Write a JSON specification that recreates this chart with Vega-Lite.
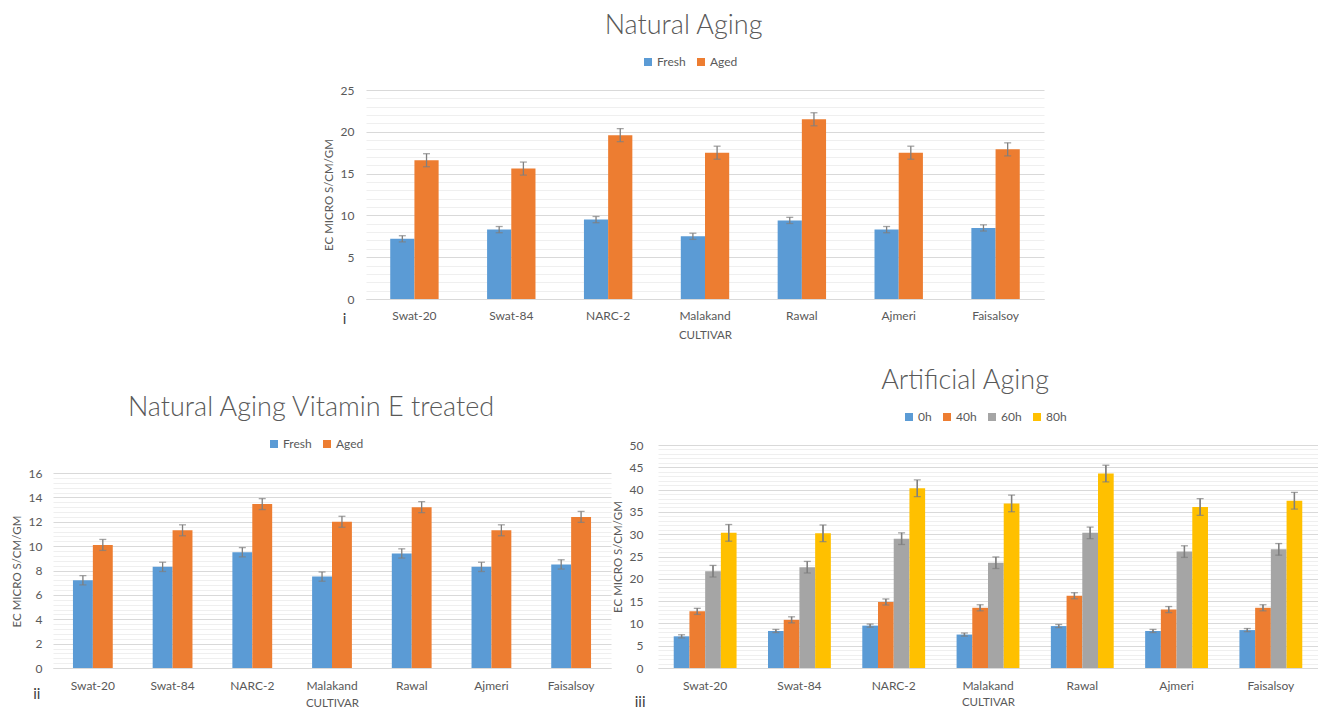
{
  "$schema": "https://vega.github.io/schema/vega-lite/v6.json",
  "padding": {"left": 11, "top": 12, "right": 0, "bottom": 0},
  "background": "white",
  "datasets": {
    "natural": [
      {"cultivar": "Swat-20", "group": "Fresh", "value": 7.2, "lo": 6.83, "hi": 7.57},
      {"cultivar": "Swat-20", "group": "Aged", "value": 16.6, "lo": 15.82, "hi": 17.38},
      {"cultivar": "Swat-84", "group": "Fresh", "value": 8.3, "lo": 7.93, "hi": 8.67},
      {"cultivar": "Swat-84", "group": "Aged", "value": 15.6, "lo": 14.82, "hi": 16.38},
      {"cultivar": "NARC-2", "group": "Fresh", "value": 9.5, "lo": 9.13, "hi": 9.87},
      {"cultivar": "NARC-2", "group": "Aged", "value": 19.6, "lo": 18.82, "hi": 20.38},
      {"cultivar": "Malakand", "group": "Fresh", "value": 7.5, "lo": 7.13, "hi": 7.87},
      {"cultivar": "Malakand", "group": "Aged", "value": 17.5, "lo": 16.72, "hi": 18.28},
      {"cultivar": "Rawal", "group": "Fresh", "value": 9.4, "lo": 9.03, "hi": 9.77},
      {"cultivar": "Rawal", "group": "Aged", "value": 21.5, "lo": 20.72, "hi": 22.28},
      {"cultivar": "Ajmeri", "group": "Fresh", "value": 8.3, "lo": 7.93, "hi": 8.67},
      {"cultivar": "Ajmeri", "group": "Aged", "value": 17.5, "lo": 16.72, "hi": 18.28},
      {"cultivar": "Faisalsoy", "group": "Fresh", "value": 8.5, "lo": 8.13, "hi": 8.87},
      {"cultivar": "Faisalsoy", "group": "Aged", "value": 17.9, "lo": 17.12, "hi": 18.68}
    ],
    "vitaminE": [
      {"cultivar": "Swat-20", "group": "Fresh", "value": 7.2, "lo": 6.82, "hi": 7.58},
      {"cultivar": "Swat-20", "group": "Aged", "value": 10.1, "lo": 9.65, "hi": 10.55},
      {"cultivar": "Swat-84", "group": "Fresh", "value": 8.3, "lo": 7.92, "hi": 8.68},
      {"cultivar": "Swat-84", "group": "Aged", "value": 11.3, "lo": 10.85, "hi": 11.75},
      {"cultivar": "NARC-2", "group": "Fresh", "value": 9.5, "lo": 9.12, "hi": 9.88},
      {"cultivar": "NARC-2", "group": "Aged", "value": 13.45, "lo": 13.0, "hi": 13.9},
      {"cultivar": "Malakand", "group": "Fresh", "value": 7.5, "lo": 7.12, "hi": 7.88},
      {"cultivar": "Malakand", "group": "Aged", "value": 12.0, "lo": 11.55, "hi": 12.45},
      {"cultivar": "Rawal", "group": "Fresh", "value": 9.4, "lo": 9.02, "hi": 9.78},
      {"cultivar": "Rawal", "group": "Aged", "value": 13.2, "lo": 12.75, "hi": 13.65},
      {"cultivar": "Ajmeri", "group": "Fresh", "value": 8.3, "lo": 7.92, "hi": 8.68},
      {"cultivar": "Ajmeri", "group": "Aged", "value": 11.3, "lo": 10.85, "hi": 11.75},
      {"cultivar": "Faisalsoy", "group": "Fresh", "value": 8.5, "lo": 8.12, "hi": 8.88},
      {"cultivar": "Faisalsoy", "group": "Aged", "value": 12.4, "lo": 11.95, "hi": 12.85}
    ],
    "artificial": [
      {"cultivar": "Swat-20", "hours": "0h", "value": 7.1, "lo": 6.75, "hi": 7.45},
      {"cultivar": "Swat-20", "hours": "40h", "value": 12.7, "lo": 12.02, "hi": 13.38},
      {"cultivar": "Swat-20", "hours": "60h", "value": 21.7, "lo": 20.4, "hi": 23.0},
      {"cultivar": "Swat-20", "hours": "80h", "value": 30.3, "lo": 28.43, "hi": 32.17},
      {"cultivar": "Swat-84", "hours": "0h", "value": 8.3, "lo": 7.95, "hi": 8.65},
      {"cultivar": "Swat-84", "hours": "40h", "value": 10.8, "lo": 10.12, "hi": 11.48},
      {"cultivar": "Swat-84", "hours": "60h", "value": 22.6, "lo": 21.3, "hi": 23.9},
      {"cultivar": "Swat-84", "hours": "80h", "value": 30.2, "lo": 28.33, "hi": 32.07},
      {"cultivar": "NARC-2", "hours": "0h", "value": 9.5, "lo": 9.15, "hi": 9.85},
      {"cultivar": "NARC-2", "hours": "40h", "value": 14.8, "lo": 14.12, "hi": 15.48},
      {"cultivar": "NARC-2", "hours": "60h", "value": 29.0, "lo": 27.7, "hi": 30.3},
      {"cultivar": "NARC-2", "hours": "80h", "value": 40.3, "lo": 38.43, "hi": 42.17},
      {"cultivar": "Malakand", "hours": "0h", "value": 7.5, "lo": 7.15, "hi": 7.85},
      {"cultivar": "Malakand", "hours": "40h", "value": 13.5, "lo": 12.82, "hi": 14.18},
      {"cultivar": "Malakand", "hours": "60h", "value": 23.6, "lo": 22.3, "hi": 24.9},
      {"cultivar": "Malakand", "hours": "80h", "value": 36.9, "lo": 35.03, "hi": 38.77},
      {"cultivar": "Rawal", "hours": "0h", "value": 9.4, "lo": 9.05, "hi": 9.75},
      {"cultivar": "Rawal", "hours": "40h", "value": 16.2, "lo": 15.52, "hi": 16.88},
      {"cultivar": "Rawal", "hours": "60h", "value": 30.3, "lo": 29.0, "hi": 31.6},
      {"cultivar": "Rawal", "hours": "80h", "value": 43.6, "lo": 41.73, "hi": 45.47},
      {"cultivar": "Ajmeri", "hours": "0h", "value": 8.3, "lo": 7.95, "hi": 8.65},
      {"cultivar": "Ajmeri", "hours": "40h", "value": 13.1, "lo": 12.42, "hi": 13.78},
      {"cultivar": "Ajmeri", "hours": "60h", "value": 26.1, "lo": 24.8, "hi": 27.4},
      {"cultivar": "Ajmeri", "hours": "80h", "value": 36.1, "lo": 34.23, "hi": 37.97},
      {"cultivar": "Faisalsoy", "hours": "0h", "value": 8.5, "lo": 8.15, "hi": 8.85},
      {"cultivar": "Faisalsoy", "hours": "40h", "value": 13.5, "lo": 12.82, "hi": 14.18},
      {"cultivar": "Faisalsoy", "hours": "60h", "value": 26.6, "lo": 25.3, "hi": 27.9},
      {"cultivar": "Faisalsoy", "hours": "80h", "value": 37.5, "lo": 35.63, "hi": 39.37}
    ]
  },
  "config": {
    "font": "Lato",
    "view": {"stroke": null},
    "axis": {
      "labelColor": "#595959",
      "titleColor": "#595959",
      "labelFont": "Lato",
      "titleFont": "Lato",
      "labelFontSize": 12,
      "titleFontSize": 11.5,
      "titleFontWeight": "normal",
      "ticks": false,
      "domain": false,
      "labelOverlap": false
    },
    "axisX": {"domain": true, "domainColor": "#d9d9d9", "domainWidth": 1.2, "labelAngle": 0, "grid": false, "labelPadding": 11, "titlePadding": 8},
    "axisY": {"labelPadding": 12, "titlePadding": 6, "tickCount": 200},
    "legend": {
      "orient": "none",
      "direction": "horizontal",
      "title": null,
      "symbolType": "square",
      "symbolSize": 64,
      "symbolStrokeWidth": 0,
      "labelFont": "Lato",
      "labelFontSize": 12,
      "labelColor": "#595959",
      "columnPadding": 9,
      "labelOffset": 3
    },
    "title": {"font": "Lato", "fontWeight": 300, "fontSize": 27, "color": "#595959", "anchor": "middle", "frame": "bounds", "offset": 16},
    "text": {"font": "Lato", "fontSize": 15, "color": "#404040"},
    "rule": {"color": "#7f7f7f", "strokeWidth": 1.3},
    "tick": {"color": "#7f7f7f", "thickness": 1.3, "orient": "horizontal", "size": 7}
  },
  "spacing": 26,
  "vconcat": [
    {
      "spacing": 0,
      "hconcat": [
        {"width": 270, "height": 10, "data": {"values": []}, "mark": "point", "encoding": {}},
        {
          "width": 678,
          "height": 209,
          "title": "Natural Aging",
          "data": {"name": "natural"},
          "layer": [
            {
              "transform": [{"filter": "datum.group === 'Fresh'"}],
              "mark": {"type": "bar", "width": 24.2, "xOffset": -12.1},
              "encoding": {
                "x": {"field": "cultivar", "type": "nominal", "scale": {"domain": ["Swat-20", "Swat-84", "NARC-2", "Malakand", "Rawal", "Ajmeri", "Faisalsoy"], "paddingInner": 0.5, "paddingOuter": 0.25}, "axis": {"title": "CULTIVAR"}},
                "y": {"field": "value", "type": "quantitative", "title": "EC MICRO S/CM/GM", "scale": {"domain": [0, 25], "nice": false}, "axis": {"values": [0,1,2,3,4,5,6,7,8,9,10,11,12,13,14,15,16,17,18,19,20,21,22,23,24,25], "labelExpr": "datum.value % 5 === 0 ? format(datum.value, 'd') : ''", "gridColor": {"condition": {"test": "datum.value % 5 === 0", "value": "#d9d9d9"}, "value": "#efefef"}}},
                "color": {"field": "group", "type": "nominal", "scale": {"domain": ["Fresh", "Aged"], "range": ["#5B9BD5", "#ED7D31"]}, "legend": {"legendX": 276, "legendY": -34}}
              }
            },
            {
              "transform": [{"filter": "datum.group === 'Aged'"}],
              "mark": {"type": "bar", "width": 24.2, "xOffset": 12.1},
              "encoding": {
                "x": {"field": "cultivar", "type": "nominal"},
                "y": {"field": "value", "type": "quantitative", "title": "EC MICRO S/CM/GM", "scale": {"domain": [0, 25], "nice": false}},
                "color": {"field": "group", "type": "nominal"}
              }
            },
            {
              "transform": [{"filter": "datum.group === 'Fresh'"}],
              "mark": {"type": "rule", "xOffset": -12.1},
              "encoding": {"x": {"field": "cultivar", "type": "nominal"}, "y": {"field": "lo", "type": "quantitative", "title": "EC MICRO S/CM/GM", "scale": {"domain": [0, 25], "nice": false}}, "y2": {"field": "hi"}}
            },
            {
              "transform": [{"filter": "datum.group === 'Aged'"}],
              "mark": {"type": "rule", "xOffset": 12.1},
              "encoding": {"x": {"field": "cultivar", "type": "nominal"}, "y": {"field": "lo", "type": "quantitative", "title": "EC MICRO S/CM/GM", "scale": {"domain": [0, 25], "nice": false}}, "y2": {"field": "hi"}}
            },
            {
              "transform": [{"filter": "datum.group === 'Fresh'"}, {"fold": ["lo", "hi"], "as": ["end", "bound"]}],
              "mark": {"type": "tick", "xOffset": -12.1},
              "encoding": {"x": {"field": "cultivar", "type": "nominal"}, "y": {"field": "bound", "type": "quantitative", "title": "EC MICRO S/CM/GM", "scale": {"domain": [0, 25], "nice": false}}}
            },
            {
              "transform": [{"filter": "datum.group === 'Aged'"}, {"fold": ["lo", "hi"], "as": ["end", "bound"]}],
              "mark": {"type": "tick", "xOffset": 12.1},
              "encoding": {"x": {"field": "cultivar", "type": "nominal"}, "y": {"field": "bound", "type": "quantitative", "title": "EC MICRO S/CM/GM", "scale": {"domain": [0, 25], "nice": false}}}
            },
            {
              "data": {"values": [{"tag": "i"}]},
              "mark": {"type": "text", "dx": -70, "dy": 20},
              "encoding": {"x": {"datum": "Swat-20"}, "y": {"datum": 0}, "text": {"field": "tag"}}
            }
          ]
        }
      ],
      "resolve": {"scale": {"color": "independent"}, "legend": {"color": "independent"}}
    },
    {
      "spacing": 1,
      "hconcat": [
        {
          "width": 558,
          "height": 223,
          "title": "Natural Aging Vitamin E treated",
          "data": {"name": "vitaminE"},
          "layer": [
            {
              "transform": [{"filter": "datum.group === 'Fresh'"}],
              "mark": {"type": "bar", "width": 19.9, "xOffset": -9.95},
              "encoding": {
                "x": {"field": "cultivar", "type": "nominal", "scale": {"domain": ["Swat-20", "Swat-84", "NARC-2", "Malakand", "Rawal", "Ajmeri", "Faisalsoy"], "paddingInner": 0.5, "paddingOuter": 0.25}, "axis": {"title": "CULTIVAR", "labelPadding": 12, "titlePadding": 6}},
                "y": {"field": "value", "type": "quantitative", "title": "EC MICRO S/CM/GM", "scale": {"domain": [0, 18.3], "nice": false}, "axis": {"labelPadding": 11, "titleY": 126, "values": [0,0.4,0.8,1.2,1.6,2,2.4,2.8,3.2,3.6,4,4.4,4.8,5.2,5.6,6,6.4,6.8,7.2,7.6,8,8.4,8.8,9.2,9.6,10,10.4,10.8,11.2,11.6,12,12.4,12.8,13.2,13.6,14,14.4,14.8,15.2,15.6,16], "labelExpr": "abs(datum.value / 2 - round(datum.value / 2)) < 0.001 ? format(datum.value, 'd') : ''", "gridColor": {"condition": {"test": "abs(datum.value / 2 - round(datum.value / 2)) < 0.001", "value": "#d9d9d9"}, "value": "#efefef"}}},
                "color": {"field": "group", "type": "nominal", "scale": {"domain": ["Fresh", "Aged"], "range": ["#5B9BD5", "#ED7D31"]}, "legend": {"legendX": 215, "legendY": -7}}
              }
            },
            {
              "transform": [{"filter": "datum.group === 'Aged'"}],
              "mark": {"type": "bar", "width": 19.9, "xOffset": 9.95},
              "encoding": {
                "x": {"field": "cultivar", "type": "nominal"},
                "y": {"field": "value", "type": "quantitative", "title": "EC MICRO S/CM/GM", "scale": {"domain": [0, 18.3], "nice": false}},
                "color": {"field": "group", "type": "nominal"}
              }
            },
            {
              "transform": [{"filter": "datum.group === 'Fresh'"}],
              "mark": {"type": "rule", "xOffset": -9.95},
              "encoding": {"x": {"field": "cultivar", "type": "nominal"}, "y": {"field": "lo", "type": "quantitative", "title": "EC MICRO S/CM/GM", "scale": {"domain": [0, 18.3], "nice": false}}, "y2": {"field": "hi"}}
            },
            {
              "transform": [{"filter": "datum.group === 'Aged'"}],
              "mark": {"type": "rule", "xOffset": 9.95},
              "encoding": {"x": {"field": "cultivar", "type": "nominal"}, "y": {"field": "lo", "type": "quantitative", "title": "EC MICRO S/CM/GM", "scale": {"domain": [0, 18.3], "nice": false}}, "y2": {"field": "hi"}}
            },
            {
              "transform": [{"filter": "datum.group === 'Fresh'"}, {"fold": ["lo", "hi"], "as": ["end", "bound"]}],
              "mark": {"type": "tick", "xOffset": -9.95},
              "encoding": {"x": {"field": "cultivar", "type": "nominal"}, "y": {"field": "bound", "type": "quantitative", "title": "EC MICRO S/CM/GM", "scale": {"domain": [0, 18.3], "nice": false}}}
            },
            {
              "transform": [{"filter": "datum.group === 'Aged'"}, {"fold": ["lo", "hi"], "as": ["end", "bound"]}],
              "mark": {"type": "tick", "xOffset": 9.95},
              "encoding": {"x": {"field": "cultivar", "type": "nominal"}, "y": {"field": "bound", "type": "quantitative", "title": "EC MICRO S/CM/GM", "scale": {"domain": [0, 18.3], "nice": false}}}
            },
            {
              "data": {"values": [{"tag": "ii"}]},
              "mark": {"type": "text", "dx": -56, "dy": 26},
              "encoding": {"x": {"datum": "Swat-20"}, "y": {"datum": 0}, "text": {"field": "tag"}}
            }
          ]
        },
        {
          "width": 660,
          "height": 223,
          "title": "Artificial Aging",
          "data": {"name": "artificial"},
          "layer": [
            {
              "transform": [{"filter": "datum.hours === '0h'"}],
              "mark": {"type": "bar", "width": 15.7, "xOffset": -23.57},
              "encoding": {
                "x": {"field": "cultivar", "type": "nominal", "scale": {"domain": ["Swat-20", "Swat-84", "NARC-2", "Malakand", "Rawal", "Ajmeri", "Faisalsoy"], "paddingInner": 0.3333, "paddingOuter": 0.1667}, "axis": {"title": "CULTIVAR", "labelPadding": 12, "titlePadding": 5}},
                "y": {"field": "value", "type": "quantitative", "title": "EC MICRO S/CM/GM", "scale": {"domain": [0, 50], "nice": false}, "axis": {"labelPadding": 15, "values": [0,1,2,3,4,5,6,7,8,9,10,11,12,13,14,15,16,17,18,19,20,21,22,23,24,25,26,27,28,29,30,31,32,33,34,35,36,37,38,39,40,41,42,43,44,45,46,47,48,49,50], "labelExpr": "datum.value % 5 === 0 ? format(datum.value, 'd') : ''", "gridColor": {"condition": {"test": "datum.value % 5 === 0", "value": "#d9d9d9"}, "value": "#efefef"}}},
                "color": {"field": "hours", "type": "nominal", "scale": {"domain": ["0h", "40h", "60h", "80h"], "range": ["#5B9BD5", "#ED7D31", "#A5A5A5", "#FFC000"]}, "legend": {"legendX": 245, "legendY": -34}}
              }
            },
            {
              "transform": [{"filter": "datum.hours === '40h'"}],
              "mark": {"type": "bar", "width": 15.7, "xOffset": -7.86},
              "encoding": {"x": {"field": "cultivar", "type": "nominal"}, "y": {"field": "value", "type": "quantitative", "title": "EC MICRO S/CM/GM", "scale": {"domain": [0, 50], "nice": false}}, "color": {"field": "hours", "type": "nominal"}}
            },
            {
              "transform": [{"filter": "datum.hours === '60h'"}],
              "mark": {"type": "bar", "width": 15.7, "xOffset": 7.86},
              "encoding": {"x": {"field": "cultivar", "type": "nominal"}, "y": {"field": "value", "type": "quantitative", "title": "EC MICRO S/CM/GM", "scale": {"domain": [0, 50], "nice": false}}, "color": {"field": "hours", "type": "nominal"}}
            },
            {
              "transform": [{"filter": "datum.hours === '80h'"}],
              "mark": {"type": "bar", "width": 15.7, "xOffset": 23.57},
              "encoding": {"x": {"field": "cultivar", "type": "nominal"}, "y": {"field": "value", "type": "quantitative", "title": "EC MICRO S/CM/GM", "scale": {"domain": [0, 50], "nice": false}}, "color": {"field": "hours", "type": "nominal"}}
            },
            {
              "transform": [{"filter": "datum.hours === '0h'"}, {"fold": ["lo", "hi"], "as": ["end", "bound"]}],
              "layer": [
                {"mark": {"type": "rule", "xOffset": -23.57}, "encoding": {"x": {"field": "cultivar", "type": "nominal"}, "y": {"field": "lo", "type": "quantitative", "title": "EC MICRO S/CM/GM", "scale": {"domain": [0, 50], "nice": false}}, "y2": {"field": "hi"}}},
                {"mark": {"type": "tick", "xOffset": -23.57}, "encoding": {"x": {"field": "cultivar", "type": "nominal"}, "y": {"field": "bound", "type": "quantitative", "title": "EC MICRO S/CM/GM", "scale": {"domain": [0, 50], "nice": false}}}}
              ]
            },
            {
              "transform": [{"filter": "datum.hours === '40h'"}, {"fold": ["lo", "hi"], "as": ["end", "bound"]}],
              "layer": [
                {"mark": {"type": "rule", "xOffset": -7.86}, "encoding": {"x": {"field": "cultivar", "type": "nominal"}, "y": {"field": "lo", "type": "quantitative", "title": "EC MICRO S/CM/GM", "scale": {"domain": [0, 50], "nice": false}}, "y2": {"field": "hi"}}},
                {"mark": {"type": "tick", "xOffset": -7.86}, "encoding": {"x": {"field": "cultivar", "type": "nominal"}, "y": {"field": "bound", "type": "quantitative", "title": "EC MICRO S/CM/GM", "scale": {"domain": [0, 50], "nice": false}}}}
              ]
            },
            {
              "transform": [{"filter": "datum.hours === '60h'"}, {"fold": ["lo", "hi"], "as": ["end", "bound"]}],
              "layer": [
                {"mark": {"type": "rule", "xOffset": 7.86}, "encoding": {"x": {"field": "cultivar", "type": "nominal"}, "y": {"field": "lo", "type": "quantitative", "title": "EC MICRO S/CM/GM", "scale": {"domain": [0, 50], "nice": false}}, "y2": {"field": "hi"}}},
                {"mark": {"type": "tick", "xOffset": 7.86}, "encoding": {"x": {"field": "cultivar", "type": "nominal"}, "y": {"field": "bound", "type": "quantitative", "title": "EC MICRO S/CM/GM", "scale": {"domain": [0, 50], "nice": false}}}}
              ]
            },
            {
              "transform": [{"filter": "datum.hours === '80h'"}, {"fold": ["lo", "hi"], "as": ["end", "bound"]}],
              "layer": [
                {"mark": {"type": "rule", "xOffset": 23.57}, "encoding": {"x": {"field": "cultivar", "type": "nominal"}, "y": {"field": "lo", "type": "quantitative", "title": "EC MICRO S/CM/GM", "scale": {"domain": [0, 50], "nice": false}}, "y2": {"field": "hi"}}},
                {"mark": {"type": "tick", "xOffset": 23.57}, "encoding": {"x": {"field": "cultivar", "type": "nominal"}, "y": {"field": "bound", "type": "quantitative", "title": "EC MICRO S/CM/GM", "scale": {"domain": [0, 50], "nice": false}}}}
              ]
            },
            {
              "data": {"values": [{"tag": "iii"}]},
              "mark": {"type": "text", "dx": -65, "dy": 34},
              "encoding": {"x": {"datum": "Swat-20"}, "y": {"datum": 0}, "text": {"field": "tag"}}
            }
          ]
        }
      ],
      "resolve": {"scale": {"color": "independent"}, "legend": {"color": "independent"}}
    }
  ],
  "resolve": {"scale": {"color": "independent"}, "legend": {"color": "independent"}}
}
